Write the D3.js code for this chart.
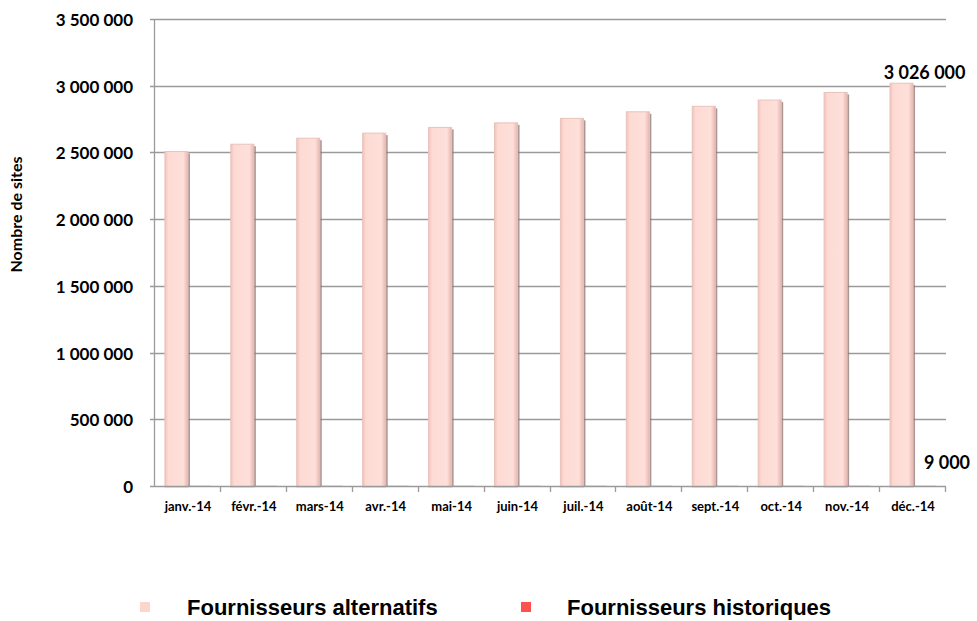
<!DOCTYPE html>
<html>
<head>
<meta charset="utf-8">
<script src="https://cdnjs.cloudflare.com/ajax/libs/d3/7.8.5/d3.min.js"></script>
<style>
  body { margin: 0; background: #fff; }
  .tick-lab { font-family: Lato, "Open Sans", sans-serif; font-weight: 700; fill: #000; }
  .legend text { font-family: "Liberation Sans", Arial, sans-serif; font-weight: 700; font-size: 22px; }
</style>
</head>
<body>
<div class="chart"></div>
<script>
// months and the two series (number of sites)
const months = ["janv.-14", "févr.-14", "mars-14", "avr.-14", "mai-14", "juin-14",
                "juil.-14", "août-14", "sept.-14", "oct.-14", "nov.-14", "déc.-14"];
const alternatifs = [2514000, 2569000, 2614000, 2652000, 2695000, 2729000,
                     2763000, 2812000, 2853000, 2900000, 2957000, 3026000];
const historiques = [9000, 9000, 9000, 9000, 9000, 9000,
                     9000, 9000, 9000, 9000, 9000, 9000];
const seriesNames = ["Fournisseurs alternatifs", "Fournisseurs historiques"];
const yTicks = [0, 500000, 1000000, 1500000, 2000000, 2500000, 3000000, 3500000];

const width = 977, height = 621;
const margin = {top: 20, right: 31, bottom: 134, left: 155};

const fmt = v => d3.format(",")(v).replace(/,/g, " ");

const svg = d3.select(".chart").append("svg")
    .attr("width", width)
    .attr("height", height)
    .attr("viewBox", [0, 0, width, height]);

const x0 = d3.scaleBand()
    .domain(months)
    .range([margin.left, width - margin.right])
    .paddingInner(0).paddingOuter(0);

const x1 = d3.scaleBand()
    .domain(seriesNames)
    .range([0, x0.bandwidth()])
    .paddingInner(0).paddingOuter(0.43);

const y = d3.scaleLinear()
    .domain([0, 3500000])
    .range([height - margin.bottom, margin.top]);

const colors = {"Fournisseurs alternatifs": "#fcd5cd", "Fournisseurs historiques": "#ff5050"};

// gradient for the bevelled look of the bars
const defs = svg.append("defs");
const grad = defs.append("linearGradient").attr("id", "barGrad")
    .attr("x1", "0%").attr("x2", "100%").attr("y1", "0%").attr("y2", "0%");
grad.append("stop").attr("offset", "0%").attr("stop-color", "#f1c3bb");
grad.append("stop").attr("offset", "15%").attr("stop-color", "#fddbd4");
grad.append("stop").attr("offset", "80%").attr("stop-color", "#fedfd9");
grad.append("stop").attr("offset", "100%").attr("stop-color", "#e6b7b0");

// gridlines (the zero line is drawn later, over the bars)
svg.append("g")
    .selectAll("line")
    .data(yTicks.filter(d => d > 0))
    .join("line")
    .attr("x1", margin.left - 5)
    .attr("x2", width - margin.right)
    .attr("y1", d => Math.round(y(d)) - 0.5)
    .attr("y2", d => Math.round(y(d)) - 0.5)
    .attr("stroke", "#9a9a9a")
    .attr("stroke-width", 1.3);

// y tick labels
svg.append("g")
    .selectAll("text")
    .data(yTicks)
    .join("text")
    .attr("class", "tick-lab")
    .attr("x", 133)
    .attr("y", d => y(d))
    .attr("dy", "0.35em")
    .attr("text-anchor", "end")
    .style("font-size", "17px")
    .text(d => fmt(d));

// bars
const data = months.map((m, i) => ({month: m, values: [
    {key: seriesNames[0], value: alternatifs[i]},
    {key: seriesNames[1], value: historiques[i]}
]}));

const groups = svg.append("g")
    .selectAll("g")
    .data(data)
    .join("g")
    .attr("transform", d => `translate(${x0(d.month)},0)`);

// shadow on the right of the bars
groups.selectAll("rect.shadow")
    .data(d => d.values.filter(v => v.key === seriesNames[0]))
    .join("rect")
    .attr("class", "shadow")
    .attr("x", d => x1(d.key) + 2)
    .attr("y", d => y(d.value) + 2)
    .attr("width", x1.bandwidth())
    .attr("height", d => y(0) - y(d.value) - 2)
    .attr("fill", "#8c7673")
    .attr("opacity", 0.75);

groups.selectAll("rect.bar")
    .data(d => d.values)
    .join("rect")
    .attr("class", "bar")
    .attr("x", d => x1(d.key))
    .attr("y", d => y(d.value))
    .attr("width", x1.bandwidth())
    .attr("height", d => y(0) - y(d.value))
    .attr("fill", d => d.key === seriesNames[0] ? "url(#barGrad)" : colors[d.key])
    .attr("stroke", d => d.key === seriesNames[0] ? "#e9c2bb" : "none")
    .attr("stroke-width", 1);

// y axis line and zero line on top of bars
svg.append("line")
    .attr("x1", margin.left - 0.5).attr("x2", margin.left - 0.5)
    .attr("y1", y(3500000) - 1).attr("y2", y(0))
    .attr("stroke", "#9a9a9a").attr("stroke-width", 1.3);

svg.append("line")
    .attr("x1", margin.left - 5).attr("x2", width - margin.right)
    .attr("y1", y(0) - 0.5).attr("y2", y(0) - 0.5)
    .attr("stroke", "#9a9a9a").attr("stroke-width", 1.6);

// x category ticks
svg.append("g")
    .selectAll("line")
    .data(months)
    .join("line")
    .attr("x1", d => Math.round(x0(d) + x0.bandwidth()) - 0.5)
    .attr("x2", d => Math.round(x0(d) + x0.bandwidth()) - 0.5)
    .attr("y1", y(0))
    .attr("y2", y(0) + 5)
    .attr("stroke", "#9a9a9a").attr("stroke-width", 1.3);

// x labels
svg.append("g")
    .selectAll("text")
    .data(months)
    .join("text")
    .attr("class", "tick-lab")
    .attr("x", d => x0(d) + x0.bandwidth() / 2)
    .attr("y", y(0) + 24)
    .attr("text-anchor", "middle")
    .style("font-size", "13px")
    .text(d => d);

// data labels on the last month
const last = months.length - 1;
svg.append("text")
    .attr("class", "tick-lab")
    .attr("x", x0(months[last]) + x1(seriesNames[1]) + x1.bandwidth() / 2)
    .attr("y", y(alternatifs[last]) - 4)
    .attr("text-anchor", "middle")
    .style("font-size", "18px")
    .text(fmt(alternatifs[last]));

svg.append("text")
    .attr("class", "tick-lab")
    .attr("x", x0(months[last]) + x0.bandwidth() + 1)
    .attr("y", y(historiques[last]) - 17)
    .attr("text-anchor", "middle")
    .style("font-size", "18px")
    .text(fmt(historiques[last]));

// y axis title
svg.append("text")
    .attr("class", "tick-lab")
    .attr("transform", `translate(22,${(margin.top + y(0)) / 2 - 39}) rotate(-90)`)
    .attr("text-anchor", "middle")
    .style("font-size", "16px")
    .text("Nombre de sites");

// legend
const markerX = [140, 521];
const labelX = [187, 567];
const legend = svg.append("g").attr("class", "legend")
    .selectAll("g")
    .data(seriesNames)
    .join("g");

legend.append("rect")
    .attr("x", (d, i) => markerX[i]).attr("y", 602)
    .attr("width", 10).attr("height", 10)
    .attr("fill", d => colors[d]);

legend.append("text")
    .attr("x", (d, i) => labelX[i])
    .attr("y", 607)
    .attr("dy", "0.35em")
    .text(d => d);
</script>
</body>
</html>
